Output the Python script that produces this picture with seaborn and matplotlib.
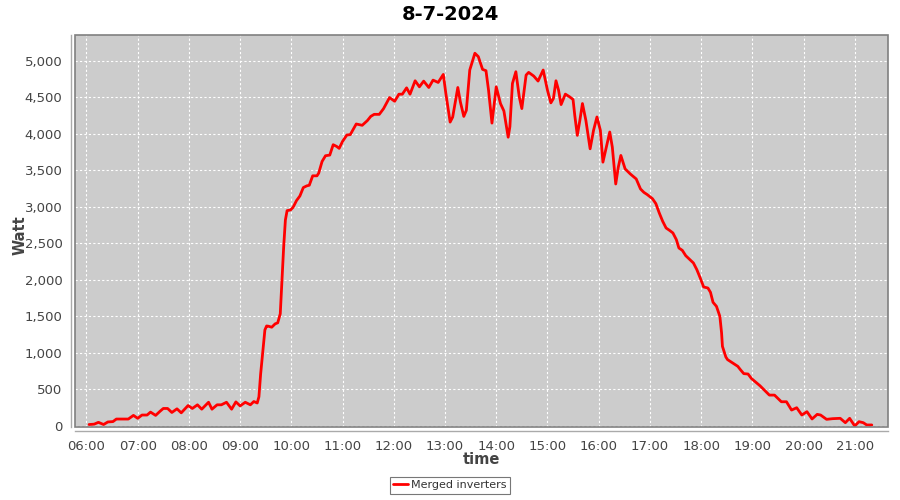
import pandas as pd
import matplotlib
matplotlib.use("Agg")
import matplotlib.pyplot as plt
import matplotlib.dates as mdates
from matplotlib.patches import Rectangle
from matplotlib.ticker import FuncFormatter
import seaborn as sns

# Readings of the merged inverters on 8-7-2024
times = [
    "06:03", "06:09", "06:14", "06:20", "06:25", "06:31", "06:35", "06:42", "06:49", "06:55",
    "07:00", "07:05", "07:11", "07:15", "07:21", "07:26", "07:30", "07:35", "07:40", "07:46",
    "07:51", "07:59", "08:04", "08:10", "08:15", "08:23", "08:27", "08:33", "08:38", "08:44",
    "08:50", "08:55", "09:00", "09:06", "09:12", "09:16", "09:20", "09:22", "09:24", "09:27",
    "09:29", "09:31", "09:33", "09:37", "09:41", "09:44", "09:47", "09:49", "09:51", "09:53",
    "09:55", "09:59", "10:02", "10:06", "10:10", "10:14", "10:18", "10:21", "10:25", "10:30",
    "10:32", "10:36", "10:40", "10:45", "10:49", "10:53", "10:56", "11:00", "11:05", "11:09",
    "11:16", "11:23", "11:29", "11:33", "11:37", "11:43", "11:48", "11:55", "12:01", "12:06",
    "12:10", "12:15", "12:19", "12:25", "12:30", "12:35", "12:41", "12:46", "12:52", "12:58",
    "13:01", "13:06", "13:09", "13:15", "13:18", "13:22", "13:25", "13:29", "13:35", "13:39",
    "13:44", "13:48", "13:51", "13:55", "14:00", "14:05", "14:09", "14:14", "14:16", "14:19",
    "14:23", "14:27", "14:30", "14:35", "14:38", "14:44", "14:49", "14:55", "15:00", "15:04",
    "15:07", "15:10", "15:13", "15:16", "15:21", "15:26", "15:30", "15:32", "15:35", "15:38",
    "15:41", "15:45", "15:50", "15:54", "15:58", "16:02", "16:05", "16:09", "16:13", "16:16",
    "16:20", "16:23", "16:26", "16:31", "16:37", "16:44", "16:49", "16:53", "16:57", "17:03",
    "17:07", "17:11", "17:15", "17:19", "17:23", "17:27", "17:31", "17:34", "17:38", "17:42",
    "17:46", "17:51", "17:55", "17:59", "18:03", "18:08", "18:11", "18:14", "18:18", "18:22",
    "18:24", "18:25", "18:29", "18:31", "18:37", "18:43", "18:46", "18:50", "18:55", "18:59",
    "19:09", "19:20", "19:26", "19:34", "19:40", "19:46", "19:52", "19:58", "20:04", "20:10",
    "20:16", "20:20", "20:27", "20:34", "20:43", "20:49", "20:54", "21:00", "21:05", "21:10",
    "21:14", "21:20",
]
watts = [
    20, 25, 50, 20, 55, 60, 95, 95, 95, 145,
    105, 150, 150, 190, 145, 200, 240, 240, 185, 235,
    180, 280, 240, 290, 230, 325, 230, 290, 290, 325,
    230, 330, 275, 325, 290, 335, 315, 400, 711, 1078,
    1316, 1370, 1367, 1353, 1399, 1413, 1537, 1995, 2454, 2821,
    2950, 2959, 2995, 3087, 3151, 3266, 3289, 3298, 3427, 3427,
    3463, 3624, 3702, 3711, 3853, 3830, 3803, 3899, 3986, 3991,
    4137, 4119, 4183, 4241, 4269, 4269, 4347, 4499, 4448, 4545,
    4545, 4632, 4545, 4729, 4646, 4724, 4637, 4738, 4706, 4816,
    4554, 4163, 4232, 4637, 4439, 4241, 4324, 4876, 5106, 5060,
    4885, 4867, 4600, 4149, 4646, 4416, 4315, 3956, 4100, 4692,
    4853, 4509, 4348, 4807, 4844, 4793, 4725, 4876, 4601, 4426,
    4486, 4729, 4601, 4403, 4546, 4509, 4472, 4256, 3981, 4188,
    4417, 4188, 3797, 4050, 4233, 4050, 3614, 3820, 4027, 3820,
    3315, 3545, 3706, 3522, 3453, 3384, 3247, 3200, 3169, 3114,
    3046, 2918, 2804, 2712, 2680, 2644, 2553, 2438, 2406, 2333,
    2288, 2233, 2142, 2027, 1904, 1890, 1831, 1694, 1639, 1502,
    1274, 1091, 945, 909, 863, 817, 772, 717, 712, 650,
    551, 423, 423, 332, 332, 218, 250, 150, 196, 96,
    159, 150, 91, 100, 105, 45, 105, 0, 59, 45,
    14, 14,
]

day = "2024-07-08"
df = pd.DataFrame({
    "time": pd.to_datetime([day + " " + t for t in times]),
    "Watt": watts,
})

sns.set_style("darkgrid", {
    "axes.facecolor": "#cccccc",
    "grid.color": "white",
    "grid.linestyle": "--",
})
plt.rcParams["font.family"] = ["DejaVu Sans"]

fig = plt.figure(figsize=(9, 5), dpi=100)
ax = fig.add_axes([0.0833, 0.146, 0.9034, 0.784])

sns.lineplot(data=df, x="time", y="Watt", color="#ff0000", linewidth=2.0,
             label="Merged inverters", ax=ax)

# Axis ranges and ticks
ax.set_xlim(pd.Timestamp(day + " 05:46:30"), pd.Timestamp(day + " 21:39:00"))
ax.set_ylim(-14, 5356)
ax.xaxis.set_major_locator(mdates.HourLocator())
ax.xaxis.set_major_formatter(mdates.DateFormatter("%H:%M"))
ax.set_yticks(range(0, 5001, 500))
ax.yaxis.set_major_formatter(FuncFormatter(lambda v, p: f"{int(v):,}"))
ax.grid(True, color="white", linestyle=(0, (2, 2)), linewidth=0.8)

ax.tick_params(axis="both", which="major", direction="out", length=4, width=0.8,
               color="#999999", labelcolor="#444444", labelsize=9.5, pad=2)

# JFreeChart-like frame: offset axis lines + plot border
for side in ["top", "right"]:
    ax.spines[side].set_visible(False)
for side in ["left", "bottom"]:
    ax.spines[side].set_position(("outward", 3))
    ax.spines[side].set_color("#aaaaaa")
    ax.spines[side].set_linewidth(1)
ax.add_patch(Rectangle((0, 0), 1, 1, transform=ax.transAxes, fill=False,
                       edgecolor="#808080", linewidth=1.2, clip_on=False, zorder=5))

fig.suptitle("8-7-2024", x=0.5, y=0.972, va="center", fontsize=14,
             fontweight="bold", color="black")
ax.set_xlabel("time", fontsize=10.5, color="#444444", fontweight="bold")
ax.set_ylabel("Watt", fontsize=10.5, color="#444444", fontweight="bold")
ax.xaxis.set_label_coords(0.5, -0.064)
ax.yaxis.set_label_coords(-0.058, 0.49)

ax.get_legend().remove()
leg = fig.legend(loc="upper center", bbox_to_anchor=(0.5, 0.046), frameon=True,
                 fancybox=False, fontsize=8, handlelength=1.35, handletextpad=0.3,
                 borderpad=0.3, borderaxespad=0)
leg.get_frame().set_edgecolor("#555555")
leg.get_frame().set_linewidth(0.8)
leg.get_frame().set_facecolor("white")
for txt in leg.get_texts():
    txt.set_color("#333333")

fig.savefig("out.png", dpi=100)
